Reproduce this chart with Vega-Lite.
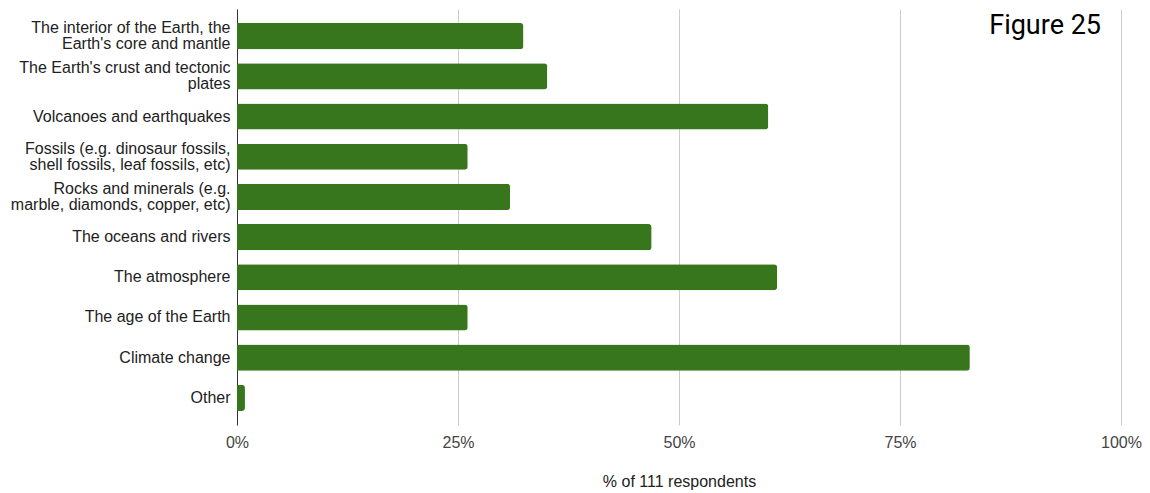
{
  "$schema": "https://vega.github.io/schema/vega-lite/v6.json",
  "autosize": {"type": "none"},
  "width": 884,
  "height": 416,
  "padding": {"left": 237, "top": 9, "right": 29, "bottom": 68},
  "background": "white",
  "title": {
    "text": "Figure 25",
    "anchor": "end",
    "orient": "top",
    "frame": "group",
    "baseline": "top",
    "offset": -31,
    "dx": -20,
    "font": "Roboto",
    "fontSize": 27,
    "fontWeight": "normal",
    "color": "#000000"
  },
  "data": {
    "values": [
      {"topic": "The interior of the Earth, the|Earth's core and mantle", "share": 0.324},
      {"topic": "The Earth's crust and tectonic|plates", "share": 0.351},
      {"topic": "Volcanoes and earthquakes", "share": 0.601},
      {"topic": "Fossils (e.g. dinosaur fossils,|shell fossils, leaf fossils, etc)", "share": 0.261},
      {"topic": "Rocks and minerals (e.g.|marble, diamonds, copper, etc)", "share": 0.309},
      {"topic": "The oceans and rivers", "share": 0.469},
      {"topic": "The atmosphere", "share": 0.611},
      {"topic": "The age of the Earth", "share": 0.261},
      {"topic": "Climate change", "share": 0.829},
      {"topic": "Other", "share": 0.009}
    ]
  },
  "mark": {"type": "bar", "color": "#38761d", "cornerRadiusEnd": 3},
  "encoding": {
    "y": {
      "field": "topic",
      "type": "nominal",
      "sort": null,
      "scale": {"paddingInner": 0.35, "paddingOuter": 0.35},
      "axis": {
        "title": null,
        "ticks": false,
        "grid": false,
        "domain": true,
        "domainColor": "#333333",
        "domainWidth": 1,
        "labelExpr": "split(datum.value, '|')",
        "labelFont": "Liberation Sans",
        "labelFontSize": 16,
        "labelColor": "#222222",
        "labelLineHeight": 16,
        "labelOffset": {"condition": {"test": "indexof(datum.value, '|') >= 0", "value": -8}, "value": 0},
        "labelPadding": 7,
        "labelLimit": 300
      }
    },
    "x": {
      "field": "share",
      "type": "quantitative",
      "scale": {"domain": [0, 1], "nice": false},
      "axis": {
        "title": "% of 111 respondents",
        "values": [0, 0.25, 0.5, 0.75, 1],
        "format": ".0%",
        "domain": false,
        "ticks": false,
        "grid": true,
        "gridColor": "#cccccc",
        "gridWidth": 1,
        "labelFlush": false,
        "labelFont": "Liberation Sans",
        "labelFontSize": 16,
        "labelColor": "#444444",
        "labelPadding": 9,
        "titleFont": "Liberation Sans",
        "titleFontSize": 16,
        "titleFontWeight": "normal",
        "titleColor": "#222222",
        "titlePadding": 23
      }
    }
  },
  "config": {"view": {"stroke": null}}
}
